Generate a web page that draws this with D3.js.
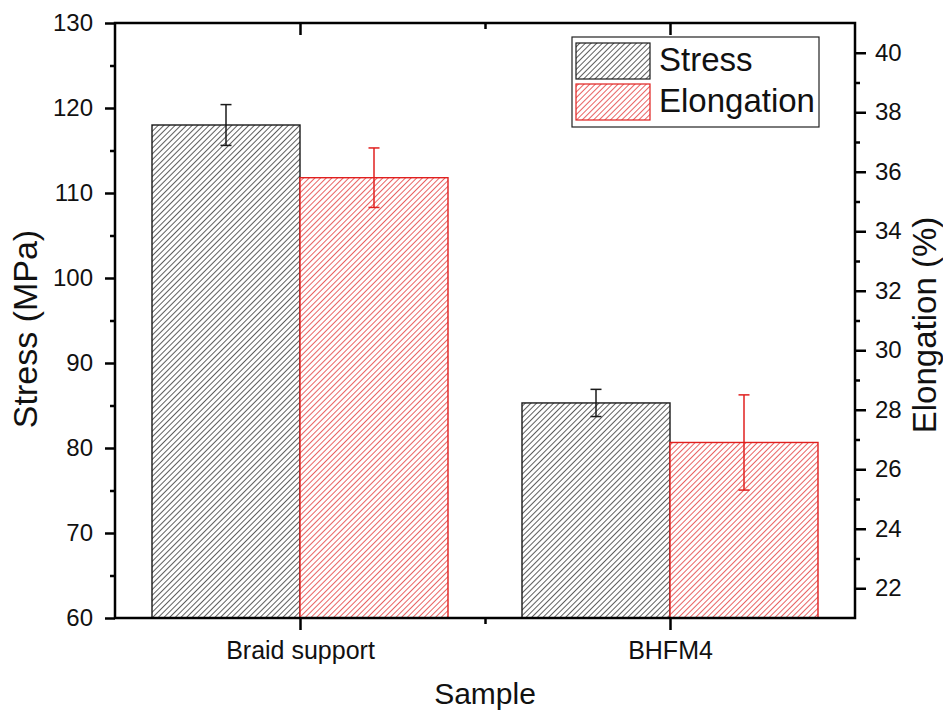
<!DOCTYPE html>
<html>
<head>
<meta charset="utf-8">
<script src="https://cdn.jsdelivr.net/npm/d3@7"></script>
<style>
  body { margin: 0; background: #fff; }
  text { font-family: "Liberation Sans", Arial, sans-serif; fill: #111; }
</style>
</head>
<body>
<div id="chart"></div>
<script>
// data
var categories = ["Braid support", "BHFM4"];
var stress = [118.0, 85.3];
var stressErr = [2.4, 1.6];
var elongation = [35.8, 26.9];
var elongationErr = [1.0, 1.6];
var leftTicks = [60, 70, 80, 90, 100, 110, 120, 130];
var rightTicks = [22, 24, 26, 28, 30, 32, 34, 36, 38, 40];
var seriesNames = ["Stress", "Elongation"];

var width = 943, height = 710;
var margin = {top: 23, right: 88, bottom: 92, left: 115};
var black = "#1a1a1a", red = "#e0201f";

var svg = d3.select("#chart").append("svg")
    .attr("width", width)
    .attr("height", height);

// hatch patterns
var defs = svg.append("defs");
function hatch(id, color) {
    var p = defs.append("pattern")
        .attr("id", id)
        .attr("patternUnits", "userSpaceOnUse")
        .attr("width", 4)
        .attr("height", 4)
        .attr("patternTransform", "rotate(45)");
    p.append("rect").attr("width", 4).attr("height", 4).attr("fill", "#fff");
    p.append("line")
        .attr("x1", 0).attr("y1", 0).attr("x2", 0).attr("y2", 4)
        .attr("stroke", color)
        .attr("stroke-width", 1.4);
}
hatch("hatchBlack", black);
hatch("hatchRed", red);

var x = d3.scaleLinear()
    .domain([0.5, 2.5])
    .range([margin.left, width - margin.right]);

var yL = d3.scaleLinear()
    .domain([60, 130])
    .range([height - margin.bottom, margin.top]);

var yR = d3.scaleLinear()
    .domain([21, 41])
    .range([height - margin.bottom, margin.top]);

var bw = 0.4;

// bars
var g = svg.append("g");
g.selectAll(".bar-s")
    .data(stress)
    .enter().append("rect")
    .attr("x", function (d, i) { return x(i + 1 - bw); })
    .attr("y", function (d) { return yL(d); })
    .attr("width", function (d, i) { return x(i + 1) - x(i + 1 - bw); })
    .attr("height", function (d) { return yL(60) - yL(d); })
    .attr("fill", "url(#hatchBlack)")
    .attr("stroke", black)
    .attr("stroke-width", 1.4);

g.selectAll(".bar-e")
    .data(elongation)
    .enter().append("rect")
    .attr("x", function (d, i) { return x(i + 1); })
    .attr("y", function (d) { return yR(d); })
    .attr("width", function (d, i) { return x(i + 1 + bw) - x(i + 1); })
    .attr("height", function (d) { return yR(21) - yR(d); })
    .attr("fill", "url(#hatchRed)")
    .attr("stroke", red)
    .attr("stroke-width", 1.4);

// error bars
function errBars(vals, errs, scale, offset, color) {
    vals.forEach(function (v, i) {
        var cx = x(i + 1 + offset);
        var eg = g.append("g").attr("stroke", color).attr("stroke-width", 1.5);
        eg.append("line").attr("x1", cx).attr("x2", cx)
            .attr("y1", scale(v + errs[i])).attr("y2", scale(v - errs[i]));
        [v + errs[i], v - errs[i]].forEach(function (e) {
            eg.append("line").attr("x1", cx - 5.5).attr("x2", cx + 5.5)
                .attr("y1", scale(e)).attr("y2", scale(e));
        });
    });
}
errBars(stress, stressErr, yL, -bw / 2, black);
errBars(elongation, elongationErr, yR, bw / 2, red);

// axes
svg.append("g")
    .attr("class", "axv")
    .attr("transform", "translate(" + margin.left + ",0)")
    .call(d3.axisLeft(yL).tickValues(leftTicks).tickSize(10).tickPadding(12));
svg.append("g")
    .attr("transform", "translate(" + margin.left + ",0)")
    .call(d3.axisLeft(yL).tickValues(d3.range(65, 130, 10)).tickSize(5).tickFormat(""));

svg.append("g")
    .attr("class", "axv")
    .attr("transform", "translate(" + (width - margin.right) + ",0)")
    .call(d3.axisRight(yR).tickValues(rightTicks).tickSize(11).tickPadding(9));
svg.append("g")
    .attr("transform", "translate(" + (width - margin.right) + ",0)")
    .call(d3.axisRight(yR).tickValues(d3.range(23, 41, 2)).tickSize(5).tickFormat(""));

svg.append("g")
    .attr("class", "axb")
    .attr("transform", "translate(0," + (height - margin.bottom) + ")")
    .call(d3.axisBottom(x).tickValues([1, 2]).tickSize(12).tickPadding(11)
        .tickFormat(function (d) { return categories[d - 1]; }));
svg.append("g")
    .attr("transform", "translate(0," + (height - margin.bottom) + ")")
    .call(d3.axisBottom(x).tickValues([1.5]).tickSize(6).tickFormat(""));

// top axis, ticks pointing in
svg.append("g")
    .attr("transform", "translate(0," + margin.top + ")")
    .call(d3.axisBottom(x).tickValues([1, 2]).tickSize(12).tickFormat(""));
svg.append("g")
    .attr("transform", "translate(0," + margin.top + ")")
    .call(d3.axisBottom(x).tickValues([1.5]).tickSize(6).tickFormat(""));

svg.selectAll(".domain").remove();
svg.selectAll(".tick line").attr("stroke", "#000").attr("stroke-width", 2.5);
svg.selectAll(".axv .tick text").style("font-size", "24px");
svg.selectAll(".axb .tick text").style("font-size", "25px");

// frame
svg.append("rect")
    .attr("x", margin.left)
    .attr("y", margin.top)
    .attr("width", width - margin.left - margin.right)
    .attr("height", height - margin.top - margin.bottom)
    .attr("fill", "none")
    .attr("stroke", "#000")
    .attr("stroke-width", 2.5);

// axis titles
svg.append("text")
    .attr("transform", "translate(37,329) rotate(-90)")
    .attr("text-anchor", "middle")
    .style("font-size", "34px")
    .text("Stress (MPa)");

svg.append("text")
    .attr("transform", "translate(936,325) rotate(-90)")
    .attr("text-anchor", "middle")
    .style("font-size", "33px")
    .text("Elongation (%)");

svg.append("text")
    .attr("x", x(1.5))
    .attr("y", 704)
    .attr("text-anchor", "middle")
    .style("font-size", "30px")
    .text("Sample");

// legend
var leg = svg.append("g");
leg.append("rect")
    .attr("x", 572).attr("y", 37).attr("width", 247).attr("height", 90)
    .attr("fill", "#fff").attr("stroke", "#222").attr("stroke-width", 1.2);
var legFill = ["url(#hatchBlack)", "url(#hatchRed)"];
var legStroke = [black, red];
seriesNames.forEach(function (n, i) {
    leg.append("rect")
        .attr("x", 576).attr("y", 43 + i * 41).attr("width", 74).attr("height", 36)
        .attr("fill", legFill[i]).attr("stroke", legStroke[i]).attr("stroke-width", 1.2);
    leg.append("text")
        .attr("x", 659).attr("y", 71 + i * 41)
        .style("font-size", "33px")
        .text(n);
});
</script>
</body>
</html>
